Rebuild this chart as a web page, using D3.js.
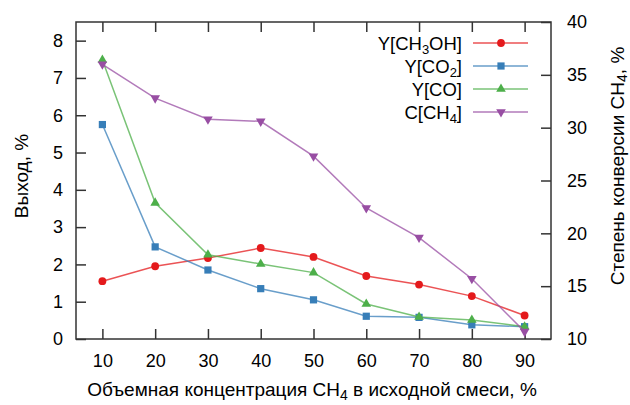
<!DOCTYPE html>
<html>
<head>
  <meta charset="utf-8">
  <script src="https://d3js.org/d3.v7.min.js"></script>
  <style>
    body { margin: 0; background: #fff; }
    text { font-family: "Liberation Sans", Arial, sans-serif; fill: #000; }
  </style>
</head>
<body>
<script>
  // data
  var concentration = [10, 20, 30, 40, 50, 60, 70, 80, 90];
  var yCH3OH = [1.55, 1.95, 2.17, 2.44, 2.20, 1.69, 1.46, 1.15, 0.63];
  var yCO2   = [5.75, 2.47, 1.85, 1.35, 1.05, 0.61, 0.58, 0.38, 0.33];
  var yCO    = [7.48, 3.65, 2.26, 2.01, 1.78, 0.94, 0.59, 0.51, 0.33];
  var cCH4   = [36.0, 32.8, 30.8, 30.6, 27.3, 22.4, 19.6, 15.7, 10.7];
  var leftTicks = [0, 1, 2, 3, 4, 5, 6, 7, 8];
  var rightTicks = [10, 15, 20, 25, 30, 35, 40];

  var W = 630, H = 405;
  var m = {left: 76, right: 79, top: 22, bottom: 66};

  var svg = d3.select("body").append("svg")
      .attr("width", W).attr("height", H);

  var x = d3.scaleLinear().domain([5, 95]).range([m.left, W - m.right]);
  var yL = d3.scaleLinear().domain([0, 8.5]).range([H - m.bottom, m.top]);
  var yR = d3.scaleLinear().domain([10, 40]).range([H - m.bottom, m.top]);

  var fs = "18px";     // tick labels
  var tfs = "19px";    // titles and legend

  // axes, ticks drawn inward
  var xb = svg.append("g").attr("transform", "translate(0," + (H - m.bottom) + ")")
      .call(d3.axisBottom(x).tickValues(concentration).tickSize(-10).tickPadding(15));
  var xt = svg.append("g").attr("transform", "translate(0," + m.top + ")")
      .call(d3.axisTop(x).tickValues(concentration).tickSize(-10).tickFormat(""));
  var yl = svg.append("g").attr("transform", "translate(" + m.left + ",0)")
      .call(d3.axisLeft(yL).tickValues(leftTicks).tickSize(-10).tickPadding(13));
  var yr = svg.append("g").attr("transform", "translate(" + (W - m.right) + ",0)")
      .call(d3.axisRight(yR).tickValues(rightTicks).tickSize(-10).tickPadding(16));

  [xb, xt, yl, yr].forEach(function(g) {
    g.select(".domain").remove();
    g.selectAll("line").attr("stroke", "#333").attr("stroke-width", 1.5);
    g.selectAll("text").style("font-size", fs).attr("fill", "#000");
  });

  svg.append("rect")
      .attr("x", m.left).attr("y", m.top)
      .attr("width", W - m.left - m.right).attr("height", H - m.top - m.bottom)
      .attr("fill", "none").attr("stroke", "#333").attr("stroke-width", 1.5);

  // series
  var series = [
    {vals: yCH3OH, scale: yL, color: "#e41a1c", sym: d3.symbolCircle, size: 48, rot: 0},
    {vals: yCO2, scale: yL, color: "#377eb8", sym: d3.symbolSquare, size: 52, rot: 0},
    {vals: yCO, scale: yL, color: "#4daf4a", sym: d3.symbolTriangle, size: 40, rot: 0},
    {vals: cCH4, scale: yR, color: "#984ea3", sym: d3.symbolTriangle, size: 40, rot: 180}
  ];

  series.forEach(function(s) {
    var pts = concentration.map(function(c, i) { return [x(c), s.scale(s.vals[i])]; });
    svg.append("path")
        .attr("d", d3.line()(pts))
        .attr("fill", "none")
        .attr("stroke", s.color).attr("stroke-opacity", 0.75)
        .attr("stroke-width", 1.5);
    svg.selectAll(null).data(pts).enter().append("path")
        .attr("d", d3.symbol().type(s.sym).size(s.size))
        .attr("transform", function(p) { return "translate(" + p[0] + "," + p[1] + ") rotate(" + s.rot + ")"; })
        .attr("fill", s.color);
  });

  // legend
  var legend = [
    {base: "Y[CH", sub: "3", tail: "OH]"},
    {base: "Y[CO", sub: "2", tail: "]"},
    {base: "Y[CO]", sub: "", tail: ""},
    {base: "C[CH", sub: "4", tail: "]"}
  ];
  legend.forEach(function(l, i) {
    var s = series[i];
    var ly = 43 + i * 23;
    var t = svg.append("text").attr("x", 462).attr("y", ly + 7)
        .attr("text-anchor", "end").style("font-size", "18.5px");
    t.append("tspan").text(l.base);
    if (l.sub) {
      t.append("tspan").attr("dy", 4).style("font-size", "13px").text(l.sub);
      t.append("tspan").attr("dy", -4).text(l.tail);
    }
    svg.append("line").attr("x1", 473).attr("x2", 528).attr("y1", ly).attr("y2", ly)
        .attr("stroke", s.color).attr("stroke-opacity", 0.75).attr("stroke-width", 1.5);
    svg.append("path")
        .attr("d", d3.symbol().type(s.sym).size(s.size))
        .attr("transform", "translate(501," + ly + ") rotate(" + s.rot + ")")
        .attr("fill", s.color);
  });

  // axis titles
  var xt2 = svg.append("text").attr("x", 312).attr("y", 396)
      .attr("text-anchor", "middle").style("font-size", tfs);
  xt2.append("tspan").text("Объемная концентрация CH");
  xt2.append("tspan").attr("dy", 4).style("font-size", "14px").text("4");
  xt2.append("tspan").attr("dy", -4).text(" в исходной смеси, %");

  svg.append("text")
      .attr("transform", "translate(28,176) rotate(-90)")
      .attr("text-anchor", "middle").style("font-size", tfs)
      .text("Выход, %");

  var rt = svg.append("text")
      .attr("transform", "translate(624,166) rotate(-90)")
      .attr("text-anchor", "middle").style("font-size", tfs);
  rt.append("tspan").text("Степень конверсии CH");
  rt.append("tspan").attr("dy", 3).style("font-size", "14px").text("4");
  rt.append("tspan").attr("dy", -3).text(", %");
</script>
</body>
</html>
